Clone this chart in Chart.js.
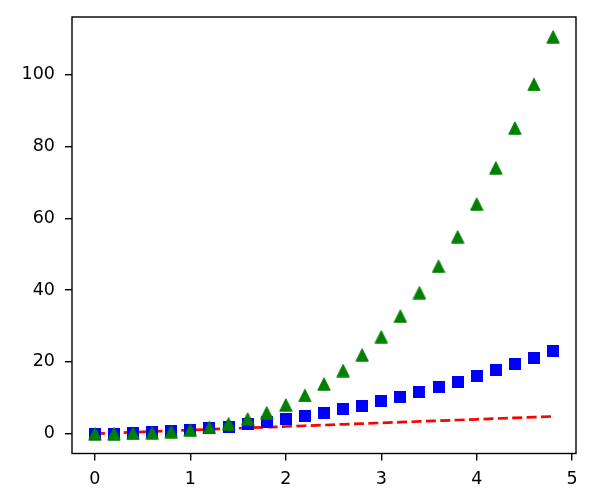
<!DOCTYPE html>
<html>
<head>
<meta charset="utf-8">
<script src="https://cdn.jsdelivr.net/npm/chart.js@4/dist/chart.umd.min.js"></script>
<style>
  html, body { margin: 0; padding: 0; background: #fff; }
  #wrap { width: 597px; height: 501px; }
</style>
</head>
<body>
<div id="wrap"><canvas id="c" width="597" height="501"></canvas></div>
<script>
const tValues = [0, 0.2, 0.4, 0.6, 0.8, 1.0, 1.2, 1.4, 1.6, 1.8, 2.0, 2.2, 2.4, 2.6, 2.8, 3.0, 3.2, 3.4, 3.6, 3.8, 4.0, 4.2, 4.4, 4.6, 4.8];
const linearValues = [0, 0.2, 0.4, 0.6, 0.8, 1.0, 1.2, 1.4, 1.6, 1.8, 2.0, 2.2, 2.4, 2.6, 2.8, 3.0, 3.2, 3.4, 3.6, 3.8, 4.0, 4.2, 4.4, 4.6, 4.8];
const squareValues = [0, 0.04, 0.16, 0.36, 0.64, 1.0, 1.44, 1.96, 2.56, 3.24, 4.0, 4.84, 5.76, 6.76, 7.84, 9.0, 10.24, 11.56, 12.96, 14.44, 16.0, 17.64, 19.36, 21.16, 23.04];
const cubeValues = [0, 0.008, 0.064, 0.216, 0.512, 1.0, 1.728, 2.744, 4.096, 5.832, 8.0, 10.648, 13.824, 17.576, 21.952, 27.0, 32.768, 39.304, 46.656, 54.872, 64.0, 74.088, 85.184, 97.336, 110.592];
const xTicks = [0, 1, 2, 3, 4, 5];
const yTicks = [0, 20, 40, 60, 80, 100];

function pts(ys) { return tValues.map((x, i) => ({ x: x, y: ys[i] })); }

// triangle marker image (matplotlib '^')
function triMarker(size, color) {
  const c = document.createElement('canvas');
  c.width = size; c.height = size;
  const g = c.getContext('2d');
  g.fillStyle = color;
  g.strokeStyle = color;
  g.lineWidth = 1;
  g.beginPath();
  g.moveTo(size / 2, 0.8);
  g.lineTo(size - 0.8, size - 0.8);
  g.lineTo(0.8, size - 0.8);
  g.closePath();
  g.fill();
  g.stroke();
  return c;
}
function sqMarker(size, color) {
  const c = document.createElement('canvas');
  c.width = size; c.height = size;
  const g = c.getContext('2d');
  g.fillStyle = color;
  g.fillRect(0, 0, size, size);
  return c;
}

const frame = {
  id: 'frame',
  afterDatasetsDraw(chart) {
    const a = chart.chartArea, ctx = chart.ctx;
    ctx.save();
    ctx.strokeStyle = '#000';
    ctx.lineWidth = 1.4;
    ctx.strokeRect(a.left, a.top, a.right - a.left, a.bottom - a.top);
    ctx.restore();
  }
};

const font = { family: 'DejaVu Sans', size: 17.5 };

new Chart(document.getElementById('c'), {
  type: 'scatter',
  data: {
    datasets: [
      {
        type: 'line', data: pts(linearValues), borderColor: '#ff0000', borderWidth: 2.7,
        borderDash: [10, 4.4], pointRadius: 0, fill: false, tension: 0, order: 3, showLine: true
      },
      {
        data: pts(squareValues), pointStyle: sqMarker(12, '#0000ff'), pointRadius: 6,
        backgroundColor: '#0000ff', borderColor: '#0000ff', order: 2, showLine: false
      },
      {
        data: pts(cubeValues), pointStyle: triMarker(14, '#008000'), pointRadius: 7,
        backgroundColor: '#008000', borderColor: '#008000', order: 1, showLine: false
      }
    ]
  },
  options: {
    responsive: false,
    animation: false,
    devicePixelRatio: 1,
    layout: { padding: { left: 0, top: 17, right: 21, bottom: 0 } },
    plugins: { legend: { display: false }, tooltip: { enabled: false } },
    scales: {
      x: {
        type: 'linear', min: -0.24, max: 5.04,
        afterBuildTicks(s) { s.ticks = xTicks.map(v => ({ value: v })); },
        afterFit(s) { s.height = 47.5; s.paddingLeft = 0; s.paddingRight = 0; s.paddingTop = 0; s.paddingBottom = 0; },
        grid: { display: true, drawOnChartArea: false, drawTicks: true, tickLength: 7, color: '#000', lineWidth: 1.4 },
        border: { display: false },
        ticks: { font: font, color: '#000', padding: 8.5, maxRotation: 0, autoSkip: false }
      },
      y: {
        type: 'linear', min: -5.53, max: 116.12,
        afterBuildTicks(s) { s.ticks = yTicks.map(v => ({ value: v })); },
        afterFit(s) { s.width = 72; s.paddingLeft = 0; s.paddingRight = 0; s.paddingTop = 0; s.paddingBottom = 0; },
        grid: { display: true, drawOnChartArea: false, drawTicks: true, tickLength: 7, color: '#000', lineWidth: 1.4 },
        border: { display: false },
        ticks: { font: font, color: '#000', padding: 10, autoSkip: false }
      }
    }
  },
  plugins: [frame]
});
</script>
</body>
</html>
